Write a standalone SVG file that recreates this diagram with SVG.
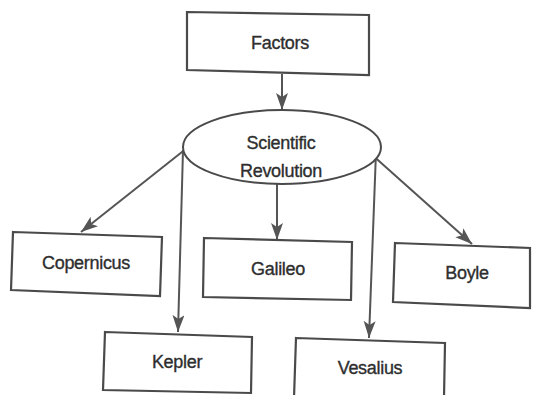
<svg xmlns="http://www.w3.org/2000/svg" width="536" height="395" viewBox="0 0 536 395">
<style>
.box{fill:#fff;stroke:#4a4a4a;stroke-width:2.2;stroke-linejoin:miter}
.lbl{font-family:"Liberation Sans",Arial,sans-serif;font-size:18px;fill:#2e2e2e;stroke:#2e2e2e;stroke-width:0.35;text-anchor:middle;dominant-baseline:central;letter-spacing:-0.3px}
.con{stroke:#555;stroke-width:2;fill:none;marker-end:url(#ah)}
</style>
<defs>
<marker id="ah" markerUnits="userSpaceOnUse" markerWidth="18" markerHeight="14" viewBox="0 0 18 14" refX="17" refY="6" orient="auto">
<path d="M0,0 L17,6 L0,12 L4,6 z" fill="#555"/>
</marker>
</defs>
<rect width="536" height="395" fill="#fff"/>
<g id="connectors">
<line class="con" x1="282" y1="74" x2="282" y2="110"/>
<line class="con" x1="187" y1="148" x2="81" y2="232"/>
<line class="con" x1="183" y1="150" x2="178" y2="332"/>
<line class="con" x1="277" y1="184" x2="277" y2="240"/>
<line class="con" x1="376" y1="152" x2="369" y2="338"/>
<line class="con" x1="370" y1="153" x2="472" y2="244"/>
</g>
<g id="factors">
<polygon class="box" points="187,12 369,15 369,75 187,70"/>
<text class="lbl" x="280" y="43">Factors</text>
</g>
<g id="scientific-revolution">
<ellipse cx="282" cy="147" rx="99" ry="37" fill="#fff" stroke="#4a4a4a" stroke-width="2"/>
<text class="lbl" x="281" y="143">Scientific</text>
<text class="lbl" x="281" y="171">Revolution</text>
</g>
<g id="copernicus">
<polygon class="box" points="13,232 162,237 160,296 11,290"/>
<text class="lbl" x="86" y="263">Copernicus</text>
</g>
<g id="galileo">
<polygon class="box" points="204,238 352,242 351,300 203,297"/>
<text class="lbl" x="278" y="269">Galileo</text>
</g>
<g id="boyle">
<polygon class="box" points="395,243 530,248 530,308 393,302"/>
<text class="lbl" x="467" y="273">Boyle</text>
</g>
<g id="kepler">
<polygon class="box" points="105,332 252,337 251,393 103,390"/>
<text class="lbl" x="177" y="362">Kepler</text>
</g>
<g id="vesalius">
<polygon class="box" points="296,338 445,343 444,398 294,398"/>
<text class="lbl" x="370" y="368">Vesalius</text>
</g>
</svg>
